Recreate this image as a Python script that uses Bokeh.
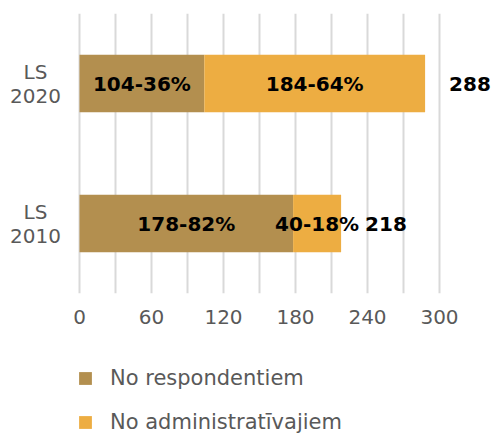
from bokeh.plotting import figure
from bokeh.models import (ColumnDataSource, FactorRange, Range1d, FixedTicker,
                          Legend, LegendItem)
from bokeh.layouts import column
from bokeh.core.properties import value
from bokeh.embed import file_html
from bokeh.resources import INLINE

# ---- data ----
categories = ["LS\n2010", "LS\n2020"]
respondents = [178, 104]
administrative = [40, 184]
respondents_pct = [82, 36]
administrative_pct = [18, 64]
series_names = ["No respondentiem", "No administratīvajiem"]
x_ticks = [0, 60, 120, 180, 240, 300]
grid_ticks = [0, 30, 60, 90, 120, 150, 180, 210, 240, 270, 300]

colors = ["#B38F4F", "#EDAD42"]
FONT = "DejaVu Sans"
GREY = "#595959"

totals = [r + a for r, a in zip(respondents, administrative)]
src = ColumnDataSource(dict(
    cat=categories,
    resp=respondents,
    admin=administrative,
    resp_mid=[r / 2 for r in respondents],
    admin_mid=[r + a / 2 for r, a in zip(respondents, administrative)],
    resp_txt=[f"{r}-{p}%" for r, p in zip(respondents, respondents_pct)],
    admin_txt=[f"{a}-{p}%" for a, p in zip(administrative, administrative_pct)],
    total=totals,
    total_txt=[str(t) for t in totals],
))

# 1.2 px per unit; frame spans the whole width, origin 79px from the left
p = figure(
    y_range=FactorRange(factors=categories),
    x_range=Range1d(-79 / 1.2, 413 / 1.2),
    width=492, height=350,
    output_backend="svg", toolbar_location=None,
    min_border_left=0, min_border_right=0,
    min_border_top=13, min_border_bottom=57,
    outline_line_color=None,
)

bars = p.hbar_stack(["resp", "admin"], y="cat", height=0.41,
                    color=colors, line_color=None, source=src)

# grid
p.ygrid.visible = False
p.xgrid.ticker = FixedTicker(ticks=grid_ticks)
p.xgrid.grid_line_color = "#D9D9D9"
p.xgrid.grid_line_width = 2

# axes
p.yaxis.visible = False
p.xaxis.ticker = FixedTicker(ticks=x_ticks)
p.xaxis.axis_line_color = None
p.xaxis.major_tick_line_color = None
p.xaxis.minor_tick_line_color = None
p.xaxis.major_label_text_font = FONT
p.xaxis.major_label_text_font_size = "20px"
p.xaxis.major_label_text_color = GREY
p.xaxis.major_label_standoff = 10

# category labels (left of the zero line)
p.text(x=0, y="cat", text="cat", source=src, x_offset=-44,
       text_align="center", text_baseline="middle", text_line_height=1.0,
       text_font=value(FONT), text_font_size="20px", text_color=GREY)

# segment labels
for xcol, tcol in (("resp_mid", "resp_txt"), ("admin_mid", "admin_txt")):
    p.text(x=xcol, y="cat", text=tcol, source=src,
           text_align="center", text_baseline="middle",
           text_font=value(FONT), text_font_style="bold",
           text_font_size="20px", text_color="#000000")

# totals
p.text(x="total", y="cat", text="total_txt", source=src,
       x_offset=24, text_align="left", text_baseline="middle",
       text_font=value(FONT), text_font_style="bold",
       text_font_size="20px", text_color="#000000")

# ---- legend figure ----
p2 = figure(width=492, height=84, output_backend="svg", toolbar_location=None,
            y_range=FactorRange(factors=categories), x_range=Range1d(0, 1),
            min_border_left=0, min_border_right=0,
            min_border_top=0, min_border_bottom=0,
            outline_line_color=None)
p2.axis.visible = False
p2.grid.visible = False
legend_renderers = p2.hbar_stack(["resp", "admin"], y="cat", height=0.41,
                                 color=colors, line_color=None, source=src)
for r in legend_renderers:
    r.visible = False
legend = Legend(
    items=[LegendItem(label=series_names[i], renderers=[legend_renderers[i]])
           for i in range(2)],
    location=(77, 0), orientation="vertical",
    glyph_width=16, glyph_height=16, label_standoff=17, spacing=20,
    padding=0, margin=0, border_line_color=None, background_fill_alpha=0,
    label_text_font=FONT, label_text_font_size="21px", label_text_color=GREY,
)
p2.add_layout(legend, "center")

open("out.html", "w").write(file_html(column(p, p2), INLINE))
